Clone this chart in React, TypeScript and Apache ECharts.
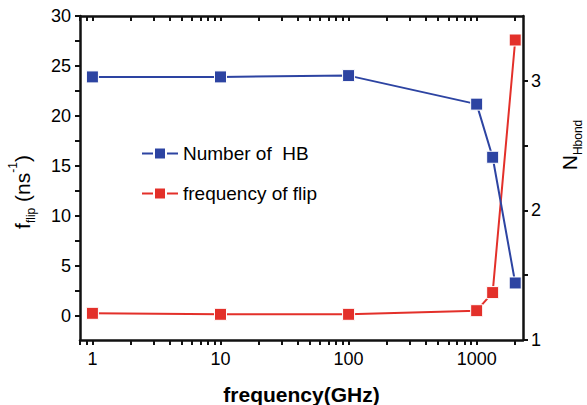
import React, { useEffect, useRef } from "react";
import * as echarts from "echarts";

const freqs = [1, 10, 100, 1000, 1333, 2000];
const hbondValues = [3.03, 3.03, 3.04, 2.82, 2.41, 1.44];
const flipValues = [0.27, 0.17, 0.17, 0.53, 2.34, 27.6];

const xMajorTicks = [1, 10, 100, 1000];
const xAllTicks = [0.8, 0.9, 1, 2, 3, 4, 5, 6, 7, 8, 9, 10, 20, 30, 40, 50, 60, 70, 80, 90, 100, 200, 300, 400, 500, 600, 700, 800, 900, 1000, 2000];
const leftMajorTicks = [0, 5, 10, 15, 20, 25, 30];
const leftAllTicks = [0, 2.5, 5, 7.5, 10, 12.5, 15, 17.5, 20, 22.5, 25, 27.5, 30];
const rightMajorTicks = [1, 2, 3];
const rightAllTicks = [1, 1.5, 2, 2.5, 3];

const FONT = "'Liberation Sans', Arial, sans-serif";
const BLUE = "#2d44a2";
const RED = "#e3302a";

export default function App() {
  const ref = useRef<HTMLDivElement>(null);
  useEffect(() => {
    if (!ref.current) return;
    const chart = echarts.init(ref.current, undefined, { renderer: "svg" });
    const mkLine = () => ({ show: true, onZero: false, lineStyle: { color: "#111", width: 2.5 } });
    const tickStyle = { color: "#111", width: 2 };
    const xRange = { type: "log" as const, logBase: 10, min: 0.8, max: 2300 };
    const option: any = {
      animation: false,
      textStyle: { fontFamily: FONT },
      grid: [{ left: 80, right: 64, top: 16, bottom: 65, outerBoundsMode: "none" }],
      legend: {
        orient: "vertical",
        left: 136,
        top: 139,
        itemWidth: 36,
        itemHeight: 15,
        itemGap: 21,
        textStyle: { fontSize: 19, color: "#000", fontFamily: FONT },
        data: ["Number of  HB", "frequency of flip"],
      },
      xAxis: [
        {
          ...xRange,
          position: "bottom",
          axisLine: mkLine(),
          axisTick: { show: true, customValues: xAllTicks, length: 5, lineStyle: tickStyle },
          axisLabel: {
            customValues: xMajorTicks,
            formatter: (v: number) => String(Math.round(v)),
            fontSize: 18,
            color: "#000",
            margin: 10,
            fontFamily: FONT,
          },
          splitLine: { show: false },
          name: "frequency(GHz)",
          nameLocation: "middle",
          nameGap: 44,
          nameTextStyle: { fontSize: 21, fontWeight: "bold", color: "#000", fontFamily: FONT },
        },
        {
          ...xRange,
          position: "top",
          axisLine: mkLine(),
          axisTick: { show: true, inside: true, customValues: xAllTicks, length: 5, lineStyle: tickStyle },
          axisLabel: { show: false },
          splitLine: { show: false },
        },
      ],
      yAxis: [
        {
          type: "value",
          min: -2.4,
          max: 30,
          position: "left",
          axisLine: mkLine(),
          axisTick: { show: true, customValues: leftAllTicks, length: 5, lineStyle: tickStyle },
          axisLabel: { customValues: leftMajorTicks, fontSize: 18, color: "#000", margin: 9, fontFamily: FONT },
          splitLine: { show: false },
          name: "{m|f}{sub|flip}{m| (ns}{sup|-1}{m|)}",
          nameLocation: "middle",
          nameRotate: 90,
          nameGap: 43,
          nameTextStyle: {
            color: "#000",
            fontFamily: FONT,
            padding: [0, 28, 0, 0],
            rich: {
              m: { fontSize: 21, lineHeight: 30, color: "#000", fontFamily: FONT },
              sub: { fontSize: 12, lineHeight: 12, verticalAlign: "bottom", color: "#000", fontFamily: FONT },
              sup: { fontSize: 12, lineHeight: 12, verticalAlign: "top", color: "#000", fontFamily: FONT },
            },
          },
        },
        {
          type: "value",
          min: 1,
          max: 3.5,
          position: "right",
          axisLine: mkLine(),
          axisTick: { show: true, customValues: rightAllTicks, length: 5, lineStyle: tickStyle },
          axisLabel: { customValues: rightMajorTicks, fontSize: 18, color: "#000", margin: 8, fontFamily: FONT },
          splitLine: { show: false },
          name: "{m|N}{sub|Hbond}",
          nameLocation: "middle",
          nameRotate: 90,
          nameGap: 31,
          nameTextStyle: {
            color: "#000",
            fontFamily: FONT,
            padding: [0, 0, 0, 66],
            rich: {
              m: { fontSize: 21, lineHeight: 30, color: "#000", fontFamily: FONT },
              sub: { fontSize: 12, lineHeight: 12, verticalAlign: "bottom", color: "#000", fontFamily: FONT },
            },
          },
        },
      ],
      series: [
        {
          name: "Number of  HB",
          type: "line",
          xAxisIndex: 0,
          yAxisIndex: 1,
          data: freqs.map((f, i) => [f, hbondValues[i]]),
          symbol: "rect",
          symbolSize: 12,
          lineStyle: { color: BLUE, width: 2 },
          itemStyle: { color: BLUE, borderColor: "#fff", borderWidth: 1 },
          z: 3,
        },
        {
          name: "frequency of flip",
          type: "line",
          xAxisIndex: 0,
          yAxisIndex: 0,
          data: freqs.map((f, i) => [f, flipValues[i]]),
          symbol: "rect",
          symbolSize: 12,
          lineStyle: { color: RED, width: 2 },
          itemStyle: { color: RED, borderColor: "#fff", borderWidth: 1 },
          z: 2,
        },
      ],
    };
    chart.setOption(option);
    return () => chart.dispose();
  }, []);
  return (
    <div
      ref={ref}
      style={{ position: "fixed", left: 0, top: 0, width: 587, height: 405, background: "#fff" }}
    />
  );
}
